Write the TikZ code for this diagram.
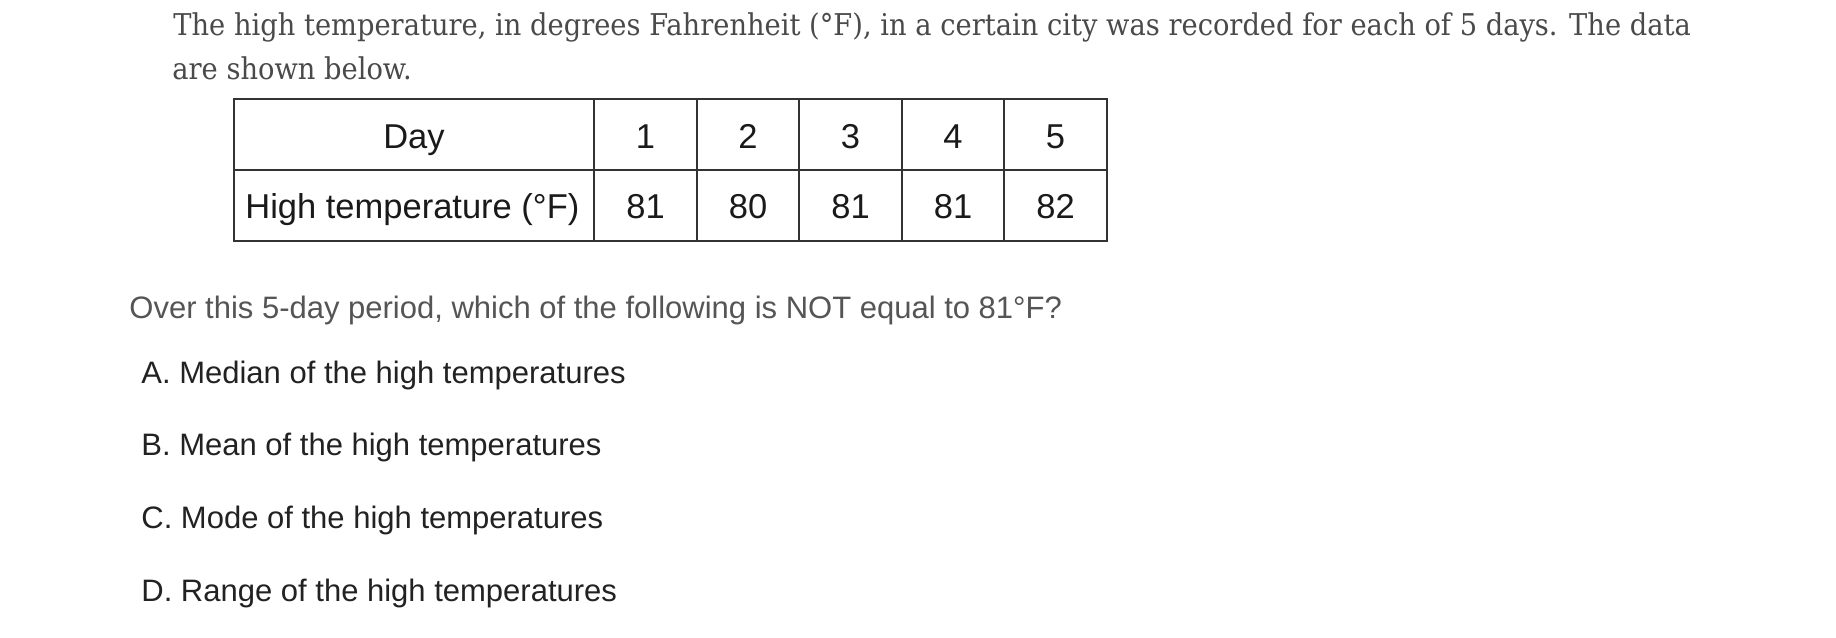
\documentclass[tikz,border=0pt]{standalone}
\usepackage{fontspec}
\setmainfont{Liberation Sans}
\newfontfamily\slabfont[FakeStretch=0.91]{DejaVu Serif}
\definecolor{slabgray}{HTML}{4A4A4A}
\definecolor{qgray}{HTML}{555555}
\definecolor{tabtext}{HTML}{1A1A1A}
\definecolor{opttext}{HTML}{222222}
\definecolor{tabline}{HTML}{333333}
\begin{document}
\begin{tikzpicture}[x=0.5pt,y=-0.5pt,
  slab/.style={anchor=base west,inner sep=0,text=slabgray,font=\slabfont\fontsize{15pt}{18pt}\selectfont},
  cell/.style={anchor=base,inner sep=0,text=tabtext,font=\fontsize{17.25pt}{20pt}\selectfont},
  question/.style={anchor=base west,inner sep=0,text=qgray,font=\fontsize{15.5pt}{18pt}\selectfont},
  option/.style={anchor=base west,inner sep=0,text=opttext,font=\fontsize{15.5pt}{18pt}\selectfont},
  grid/.style={draw=tabline,line width=1.2pt}]
\useasboundingbox (0,0) rectangle (1836,637);
\fill[white] (0,0) rectangle (1836,637);
% intro text
\node[slab] (l1) at (173,35) {The high temperature, in degrees Fahrenheit (°F), in a certain city was recorded for each of 5 days. The data};
\node[slab] (l2) at (172,79) {are shown below.};
% table grid
\draw[grid] (234,99) rectangle (1107,241);
\draw[grid] (234,170) -- (1107,170);
\foreach \x in {594,697,799,902,1004} {\draw[grid] (\x,99) -- (\x,241);}
% header row
\node[cell] (day) at (414,148) {Day};
\node[cell] (d1) at (645.5,148) {1};
\node[cell] (d2) at (748,148) {2};
\node[cell] (d3) at (850.5,148) {3};
\node[cell] (d4) at (953,148) {4};
\node[cell] (d5) at (1055.5,148) {5};
% data row
\node[cell,anchor=base west] (ht) at (245,218) {High temperature (°F)};
\node[cell] (t1) at (645.5,218) {81};
\node[cell] (t2) at (748,218) {80};
\node[cell] (t3) at (850.5,218) {81};
\node[cell] (t4) at (953,218) {81};
\node[cell] (t5) at (1055.5,218) {82};
% question
\node[question] (q) at (129,318) {Over this 5-day period, which of the following is NOT equal to 81°F?};
\node[option] (oa) at (141,383) {A. Median of the high temperatures};
\node[option] (ob) at (141,455) {B. Mean of the high temperatures};
\node[option] (oc) at (141,528) {C. Mode of the high temperatures};
\node[option] (od) at (141,601) {D. Range of the high temperatures};
\end{tikzpicture}
\end{document}
